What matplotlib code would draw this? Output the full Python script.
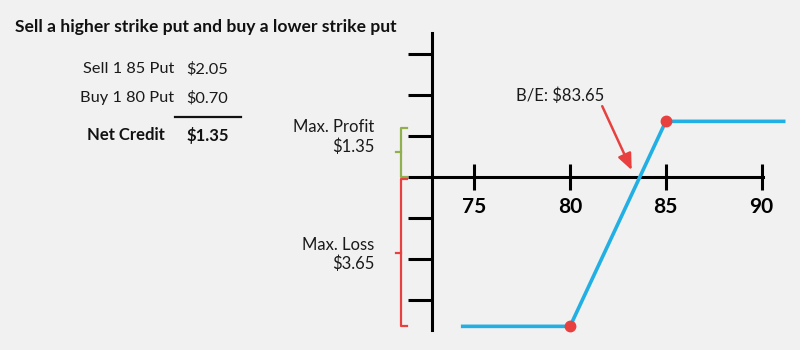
import numpy as np
import matplotlib.pyplot as plt
from matplotlib.lines import Line2D

plt.rcParams['font.family'] = ['Lato', 'DejaVu Sans']

# bull put spread legs
short_strike = 85
long_strike = 80
legs = ['Sell 1 85 Put', 'Buy 1 80 Put']
premiums = [2.05, 0.70]
net_credit = premiums[0] - premiums[1]
max_loss = (short_strike - long_strike) - net_credit
break_even = short_strike - net_credit

# payoff at expiry
prices = [74.3, long_strike, short_strike, 91.25]
payoff = [-max_loss, -max_loss, net_credit, net_credit]

xticks = [75, 80, 85, 90]
yticks = [-3, -2, -1, 0, 1, 2, 3]

BG = '#f1f1f1'
BLUE = '#22afe3'
RED = '#e8403f'
GREEN = '#8fb04c'
INK = '#1a1a1a'

W, H = 800, 350
fig = plt.figure(figsize=(W / 100, H / 100), dpi=100, facecolor=BG)
ax = fig.add_axes([0, 0, 1, 1], facecolor=BG)

# scale: ~19.15 px per dollar on x, 41 px per tick on y
x0 = 75 - 474.3 / 19.15
ax.set_xlim(x0, x0 + W / 19.15)
ax.set_ylim(-(H - 176.7) / 41, 176.7 / 41)

y_axis_x = 72.77
for s in ['top', 'right']:
    ax.spines[s].set_visible(False)
ax.spines['left'].set_position(('data', y_axis_x))
ax.spines['bottom'].set_position(('data', 0))
ax.spines['left'].set_bounds(-3.74, 3.5)
ax.spines['bottom'].set_bounds(y_axis_x - 0.1, 90.07)
for s in ['left', 'bottom']:
    ax.spines[s].set_linewidth(2.2)
    ax.spines[s].set_zorder(1)

ax.set_xticks(xticks)
ax.set_xticklabels([str(t) for t in xticks], fontsize=15, fontweight='bold')
ax.tick_params(axis='x', direction='inout', length=19.4, width=2.2, pad=5)
ax.set_yticks(yticks)
ax.set_yticklabels([])
ax.tick_params(axis='y', direction='out', length=17.3, width=2.2)

# payoff line and strike markers
ax.plot(prices, payoff, color=BLUE, lw=2.6, zorder=3, solid_capstyle='butt')
ax.plot([long_strike, short_strike], [-max_loss, net_credit], 'o',
        color=RED, ms=7.5, zorder=4)

# brackets for max profit / max loss
bx = 71.15
serif = 0.31
nub = 0.25


def bracket(y_top, y_bot, color):
    ax.plot([bx + serif, bx, bx, bx + serif], [y_top, y_top, y_bot, y_bot],
            color=color, lw=1.6, clip_on=False)
    mid = (y_top + y_bot) / 2
    ax.plot([bx - nub, bx], [mid, mid], color=color, lw=1.6)


bracket(net_credit - 0.15, 0.0, GREEN)
bracket(-0.06, -max_loss, RED)

ax.text(69.8, 0.97, 'Max. Profit\n$%.2f' % net_credit, ha='right', va='center',
        fontsize=12, linespacing=1.2, color=INK)
ax.text(69.8, -1.9, 'Max. Loss\n$%.2f' % max_loss, ha='right', va='center',
        fontsize=12, linespacing=1.2, color=INK)

# break-even callout: label plus a separate arrow down to the crossing
ax.text(79.48, 1.97, 'B/E: $%.2f' % break_even, ha='center', va='center',
        fontsize=12, color=INK)
ax.annotate('', xy=(break_even - 0.43, 0.16), xytext=(81.68, 1.72),
            arrowprops=dict(arrowstyle='-|>,head_length=0.7,head_width=0.3',
                            color=RED, lw=1.8, mutation_scale=14,
                            shrinkA=0, shrinkB=0))


# left-hand table, placed in pixel positions
def px(x, y):
    return x / W, 1 - y / H


fig.text(*px(15, 27), 'Sell a higher strike put and buy a lower strike put',
         fontsize=12.6, fontweight='bold', va='center', color='#111111')
rows_y = [69, 98]
for leg, prem, y in zip(legs, premiums, rows_y):
    fig.text(*px(174, y), leg, ha='right', va='center', fontsize=11.8, color=INK)
    fig.text(*px(186.7, y), '$%.2f' % prem, ha='left', va='center', fontsize=11.8,
             color=INK)
fig.add_artist(Line2D([175 / W, 241 / W], [1 - 116.7 / H] * 2, color='#111111', lw=1.6))
fig.text(*px(165, 135), 'Net Credit', ha='right', va='center', fontsize=12,
         fontweight='bold', color='#111111')
fig.text(*px(186.7, 135), '$%.2f' % net_credit, ha='left', va='center', fontsize=12,
         fontweight='bold', color='#111111')

fig.savefig('out.png', dpi=100, facecolor=BG)
